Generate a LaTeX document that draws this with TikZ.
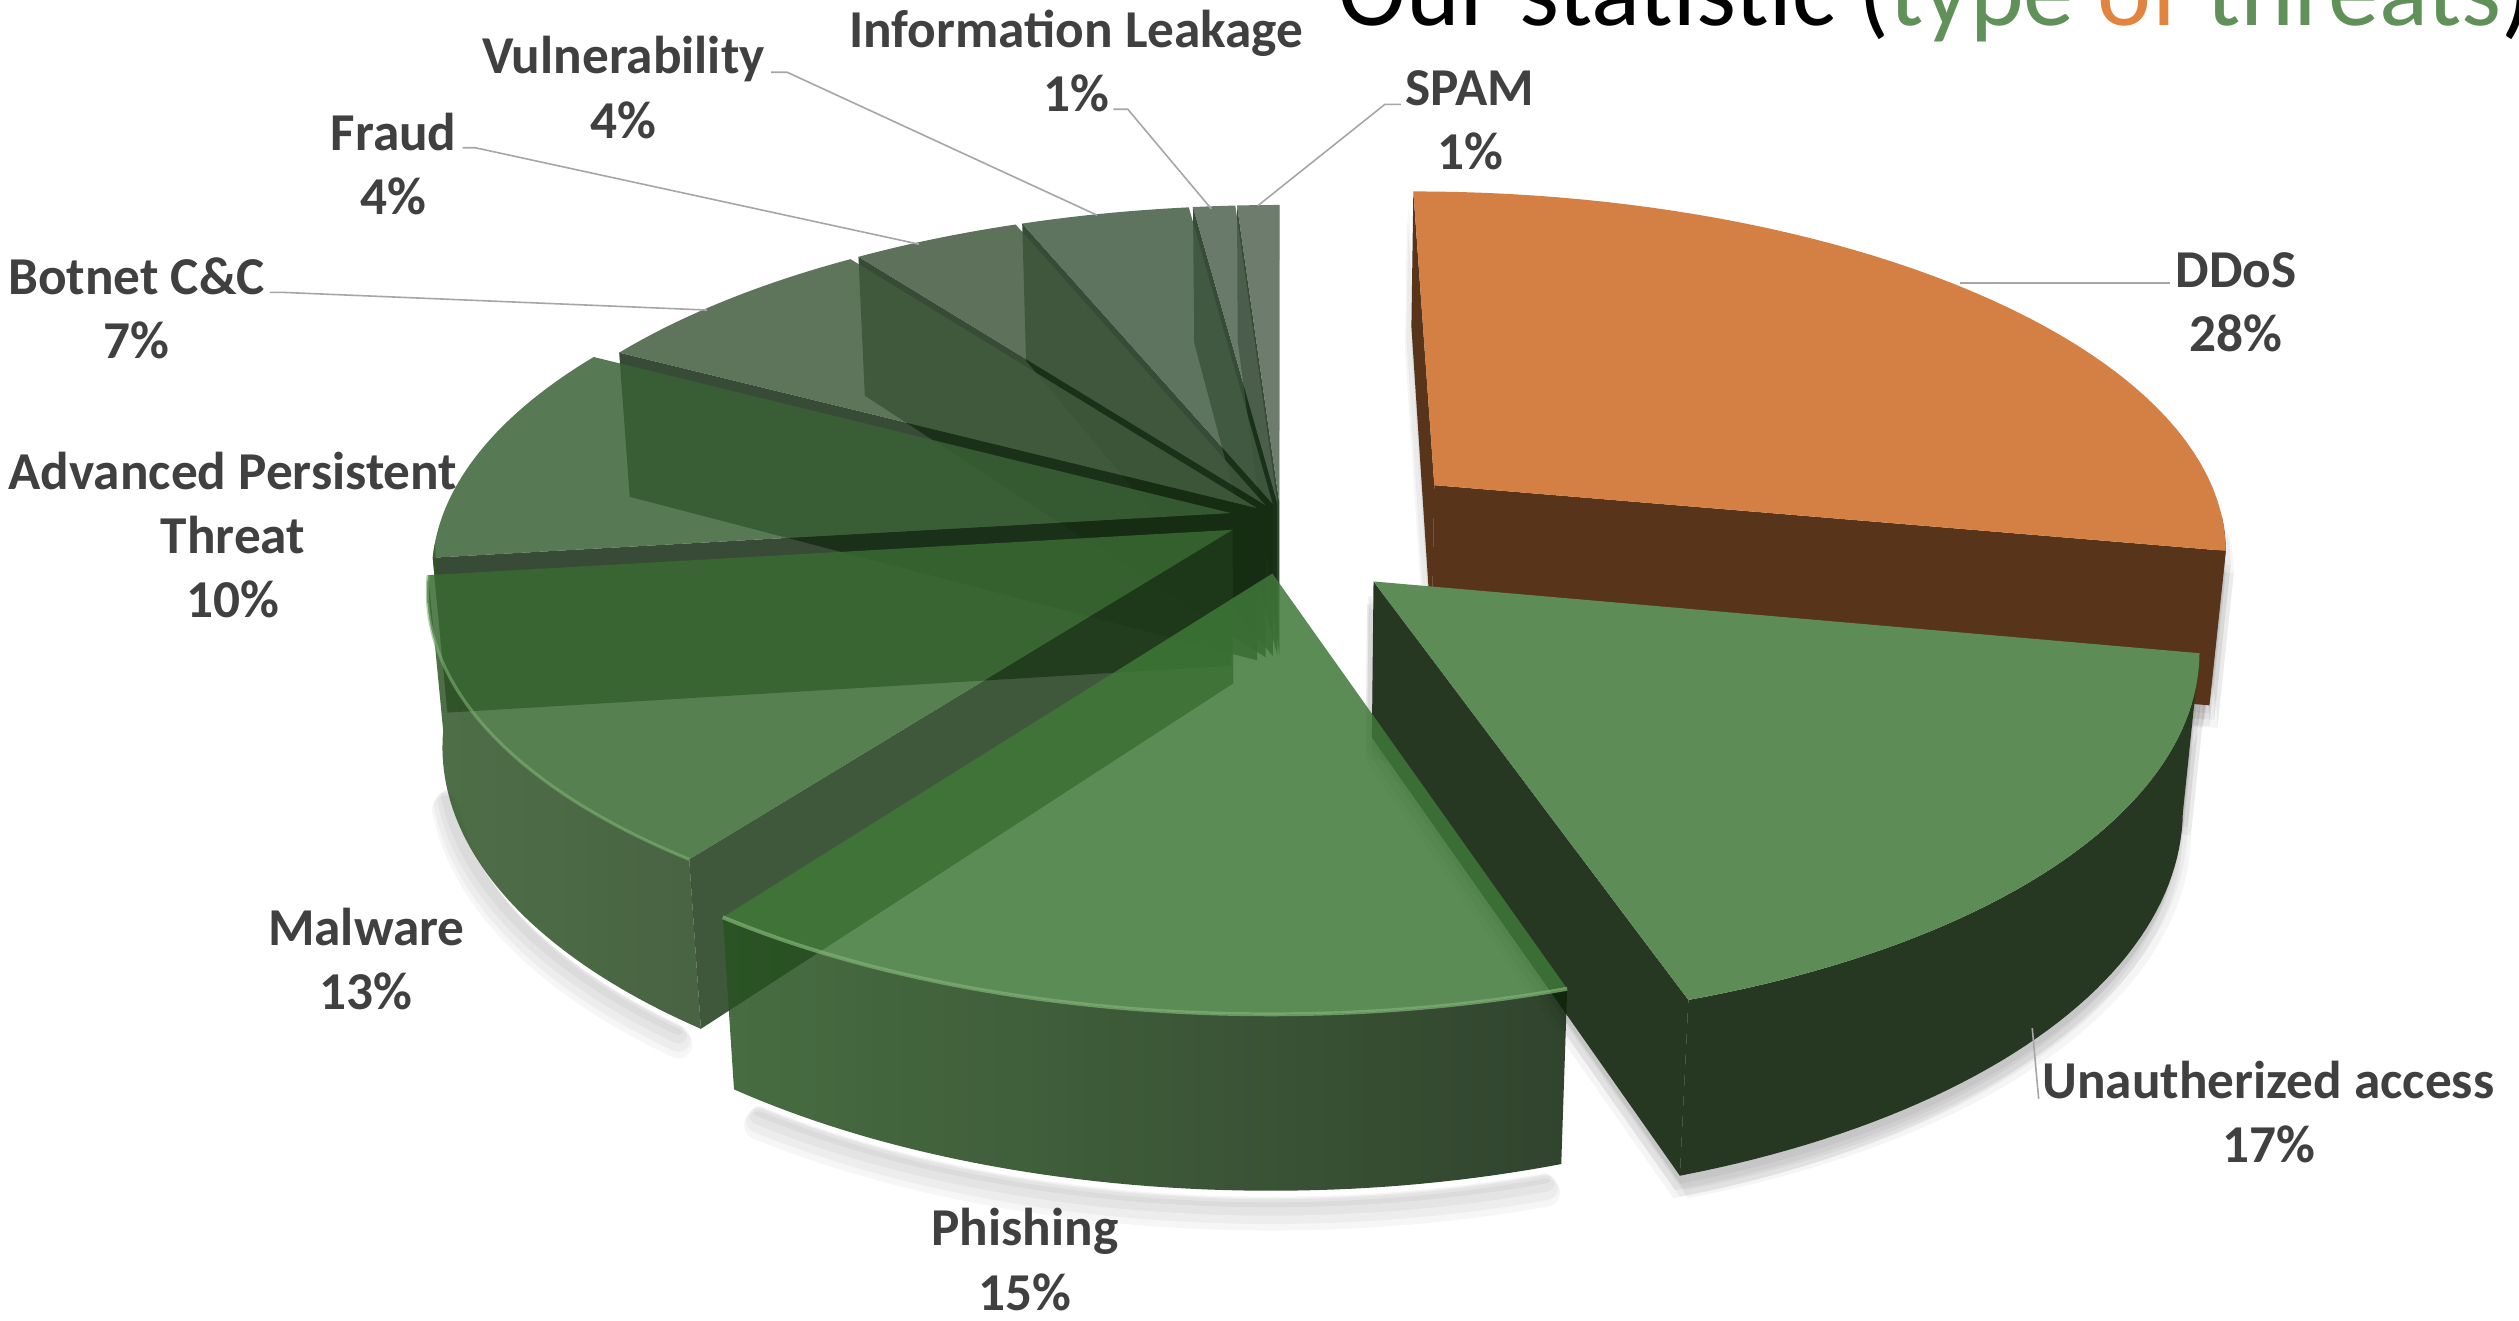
\documentclass[tikz,border=0pt]{standalone}
\usepackage{fontspec}
\setmainfont{Carlito}
\definecolor{labelgrey}{RGB}{64,64,64}
\definecolor{leadgrey}{RGB}{166,166,166}
\definecolor{titlegreen}{RGB}{96,145,88}
\definecolor{titleorange}{RGB}{224,132,64}
\definecolor{spamtop}{RGB}{84,102,84}
\definecolor{infotop}{RGB}{79,98,80}
\definecolor{vulntop}{RGB}{68,92,68}
\definecolor{fraudtop}{RGB}{66,89,63}
\definecolor{bottop}{RGB}{66,92,63}
\definecolor{apttop}{RGB}{58,98,54}
\definecolor{maltop}{RGB}{57,106,50}
\definecolor{phitop}{RGB}{63,120,56}
\definecolor{backface}{RGB}{22,44,19}
\definecolor{malface}{RGB}{30,59,26}
\definecolor{malwall}{RGB}{48,86,40}
\definecolor{phiwallL}{RGB}{40,84,33}
\definecolor{phiwallR}{RGB}{14,36,10}
\definecolor{unatop}{RGB}{94,140,86}
\definecolor{unaside}{RGB}{38,56,34}
\definecolor{ddostop}{RGB}{212,128,68}
\definecolor{ddosside}{RGB}{87,52,26}
\definecolor{rimlight}{RGB}{125,175,115}
\def\pieH{0.22}
\newcommand\PP[3]{({px(#1,#2,#3)},{py(#1,#2,#3)})}
\newcommand\RFace[4]{%
  \path[#4] \PP{#1}{#2}{0} -- \PP{#1+cos(#3)}{#2+sin(#3)}{0} -- \PP{#1+cos(#3)}{#2+sin(#3)}{-\pieH} -- \PP{#1}{#2}{-\pieH} -- cycle;}
\newcommand\TopF[5]{%
  \path[#5] \PP{#1}{#2}{0} -- plot[domain=#3:#4,samples=50,variable=\t] ({px(#1+cos(\t),#2+sin(\t),0)},{py(#1+cos(\t),#2+sin(\t),0)}) -- cycle;}
\newcommand\Wall[5]{%
  \path[#5] plot[domain=#3:#4,samples=50,variable=\t] ({px(#1+cos(\t),#2+sin(\t),0)},{py(#1+cos(\t),#2+sin(\t),0)}) -- plot[domain=#4:#3,samples=50,variable=\t] ({px(#1+cos(\t),#2+sin(\t),-\pieH)},{py(#1+cos(\t),#2+sin(\t),-\pieH)}) -- cycle;}
\newcommand\Rim[5]{%
  \draw[#5] plot[domain=#3:#4,samples=50,variable=\t] ({px(#1+cos(\t),#2+sin(\t),0)},{py(#1+cos(\t),#2+sin(\t),0)});}
\newcommand\BotRim[5]{%
  \draw[#5] plot[domain=#3:#4,samples=50,variable=\t] ({px(#1+cos(\t),#2+sin(\t),-\pieH)},{py(#1+cos(\t),#2+sin(\t),-\pieH)});}
% soft shadow of an opaque slice: wall and faces, several shifted layers
\newcommand\Shad[6]{%
  \foreach \sx/\sy in {0/5,3/9,-3/9,0/13,5/14,-4/14} {%
    \Wall{#1}{#2}{#5}{#6}{fill=black,fill opacity=0.04,shift={(\sx,\sy)}}
    \RFace{#1}{#2}{#3}{fill=black,fill opacity=0.04,shift={(\sx,\sy)}}
    \RFace{#1}{#2}{#4}{fill=black,fill opacity=0.04,shift={(\sx,\sy)}}
  }}
% soft shadow band below the bottom rim of a see-through slice
\newcommand\ShadBand[4]{%
  \foreach \sy/\lw in {7/3,10/5,13/7,16/8} {%
    \BotRim{#1}{#2}{#3}{#4}{draw=black,draw opacity=0.035,line width=\lw pt,shift={(0,\sy)},line cap=round}
  }}
\begin{document}
\begin{tikzpicture}[x=0.016cm,y=-0.016cm,
  declare function={
    dep(\u,\v,\w)=5.6+0.896*(\v)-0.444*(\w);
    px(\u,\v,\w)=797+2750*(\u)/dep(\u,\v,\w);
    py(\u,\v,\w)=322-2750*(0.444*(\v)+0.896*(\w))/dep(\u,\v,\w);
  },
  lbl/.style={font=\fontsize{15.1}{18.2}\selectfont\bfseries, text=labelgrey, align=center, inner sep=0pt},
  leader/.style={draw=leadgrey, line width=0.45pt},
  glass/.style={fill opacity=0.85},
]
\useasboundingbox (0,0) rectangle (1568,822);
\clip (0,0) rectangle (1568,822);
\fill[white] (0,0) rectangle (1568,822);

% ---- soft shadows ----
\Shad{0.198}{0.0931}{-10.8}{90}{-10.8}{-4}
\Shad{0.1147}{-0.178}{-72}{-10.8}{-72}{-10.8}
\ShadBand{-0.0099}{-0.1565}{-124}{-73}
\ShadBand{-0.0603}{-0.0356}{-165}{-128}

% ---- back group slices (semi transparent) ----
\begin{scope}[glass]
% SPAM
\RFace{-0.0013}{0.040}{90}{fill=spamtop}
\RFace{-0.0013}{0.040}{93.6}{fill=backface}
\TopF{-0.0013}{0.040}{90}{93.6}{fill=spamtop}
% Information Leakage
\RFace{-0.0038}{0.0398}{97.2}{fill=backface}
\TopF{-0.0038}{0.0398}{93.6}{97.2}{fill=infotop}
% Vulnerability
\RFace{-0.0099}{0.0387}{111.6}{fill=backface}
\TopF{-0.0099}{0.0387}{97.2}{111.6}{fill=vulntop}
% Fraud
\RFace{-0.0193}{0.0351}{126}{fill=backface}
\TopF{-0.0193}{0.0351}{111.6}{126}{fill=fraudtop}
% Botnet
\RFace{-0.030}{0.0265}{151.2}{fill=backface}
\TopF{-0.030}{0.0265}{126}{151.2}{fill=bottop}
% APT
\RFace{-0.0629}{0.0120}{187.2}{fill=backface}
\Wall{-0.0629}{0.0120}{-175}{-172.8}{fill=malwall}
\TopF{-0.0629}{0.0120}{151.2}{187.2}{fill=apttop}
\end{scope}

% ---- DDoS ----
\RFace{0.198}{0.0931}{90}{fill=ddosside}
\RFace{0.198}{0.0931}{-10.8}{fill=ddosside}
\Wall{0.198}{0.0931}{-10.8}{-5}{fill=ddosside}
\TopF{0.198}{0.0931}{-10.8}{90}{fill=ddostop}

% ---- Malware ----
\begin{scope}[glass]
\RFace{-0.0603}{-0.0356}{-126}{fill=malface}
\Wall{-0.0603}{-0.0356}{-172.8}{-126}{left color=malwall,right color=malwall!85!black}
\TopF{-0.0603}{-0.0356}{-172.8}{-126}{fill=maltop}
\Rim{-0.0603}{-0.0356}{-172.8}{-126}{draw=rimlight,line width=0.9pt,draw opacity=0.6}
\end{scope}

% ---- Unauthorized access ----
\RFace{0.1147}{-0.178}{-72}{fill=unaside}
\Wall{0.1147}{-0.178}{-72}{-10.8}{fill=unaside}
\TopF{0.1147}{-0.178}{-72}{-10.8}{fill=unatop}

% ---- Phishing ----
\begin{scope}[glass]
\Wall{-0.0099}{-0.1565}{-126}{-72}{left color=phiwallL,right color=phiwallR}
\TopF{-0.0099}{-0.1565}{-126}{-72}{fill=phitop}
\Rim{-0.0099}{-0.1565}{-126}{-72}{draw=rimlight,line width=1.1pt,draw opacity=0.75}
\end{scope}

% ---- title ----
\node[anchor=base west, inner sep=0pt, font=\fontsize{29}{32}\selectfont] (title) at (833,15.6)
  {Our statistic (\textcolor{titlegreen}{type} \textcolor{titleorange}{of} \textcolor{titlegreen}{threats})};

% ---- labels ----
\node[lbl] (lInfo) at (670,38) {Information Leakage\\1\%};
\node[lbl] (lVuln) at (388,54.5) {Vulnerability\\4\%};
\node[lbl] (lFraud) at (245,102) {Fraud\\4\%};
\node[lbl] (lBot) at (85,192) {Botnet C\&C\\7\%};
\node[lbl] (lAPT) at (145,333) {Advanced Persistent\\Threat\\10\%};
\node[lbl] (lMal) at (228,597) {Malware\\13\%};
\node[lbl] (lPhi) at (638,784) {Phishing\\15\%};
\node[lbl] (lUna) at (1412,692) {Unautherized access\\17\%};
\node[lbl] (lDDoS) at (1392,188) {DDoS\\28\%};
\node[lbl] (lSpam) at (915,75) {SPAM\\1\%};

% ---- leader lines ----
\coordinate (infoS) at (693,68);   \coordinate (infoE) at (754,130);
\coordinate (vulnS) at (480,45);   \coordinate (vulnE) at (683,134);
\coordinate (fraudS) at (288,92);  \coordinate (fraudE) at (572,152);
\coordinate (botS) at (168,182);   \coordinate (botE) at (440,193);
\coordinate (ddosS) at (1351,176); \coordinate (ddosE) at (1220,176);
\coordinate (unaS) at (1269,684);  \coordinate (unaE) at (1265,640);
\coordinate (spamS) at (872,65);   \coordinate (spamE) at (783,128);
\draw[leader] (infoS) -- ++(9,0) -- (infoE);
\draw[leader] (vulnS) -- ++(10,0) -- (vulnE);
\draw[leader] (fraudS) -- ++(8,0) -- (fraudE);
\draw[leader] (botS) -- ++(8,0) -- (botE);
\draw[leader] (ddosS) -- (ddosE);
\draw[leader] (unaS) -- (unaE);
\draw[leader] (spamS) -- ++(-10,0) -- (spamE);
\end{tikzpicture}
\end{document}
